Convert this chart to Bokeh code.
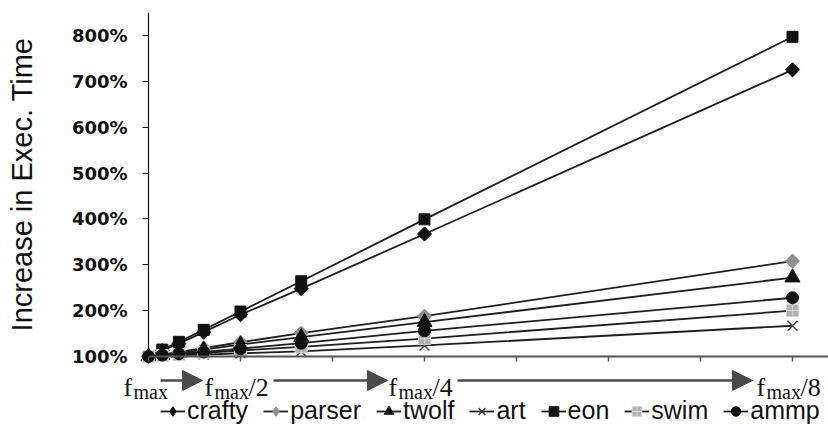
import math
from bokeh.plotting import figure
from bokeh.models import (Range1d, FixedTicker, PrintfTickFormatter, Label, Arrow,
                          NormalHead, Legend, LegendItem)
from bokeh.embed import file_html
from bokeh.resources import INLINE

# ---------------- data ----------------
ratio = [1.0, 1.15, 1.33, 1.6, 2.0, 2.66, 4.0, 8.0]   # execution-time ratio f_max / f
crafty = [100, 113, 128, 153, 191, 248, 367, 725]
parser = [100, 104, 110, 118, 131, 151, 188, 308]
twolf = [100, 103, 108, 115, 126, 142, 175, 272]
art = [100, 101, 103, 104, 107, 111, 124, 167]
eon = [100, 115, 132, 158, 198, 264, 399, 797]
swim = [100, 102, 104, 108, 113, 121, 139, 200]
ammp = [100, 103, 106, 110, 117, 129, 156, 228]

series_names = ["crafty", "parser", "twolf", "art", "eon", "swim", "ammp"]
series_values = [crafty, parser, twolf, art, eon, swim, ammp]

y_ticks = [100, 200, 300, 400, 500, 600, 700, 800]
x_ticks = [1, 2, 3, 4, 5, 6, 7, 8]
x_label_pos = [1, 2, 4, 8]
x_label_suffix = ["", "/2", "/4", "/8"]

# ---------------- styles ----------------
styles = {
    "crafty": dict(marker="square", size=10, angle=math.pi / 4, fill_color="#111111", line_color="#111111"),
    "parser": dict(marker="square", size=10, angle=math.pi / 4, fill_color="#8e8e8e", line_color="#8e8e8e"),
    "twolf": dict(marker="triangle", size=15, angle=0, fill_color="#111111", line_color="#111111"),
    "art": dict(marker="x", size=14, angle=0, fill_color="#444444", line_color="#444444"),
    "eon": dict(marker="square", size=11, angle=0, fill_color="#111111", line_color="#111111"),
    "swim": dict(marker="square_cross", size=12, angle=0, fill_color="#b0b0b0", line_color="#d4d4d4"),
    "ammp": dict(marker="circle", size=12, angle=0, fill_color="#111111", line_color="#111111"),
}

PX_PER_X = 92.0
X0 = 1 - 148 / PX_PER_X
X1 = X0 + 828 / PX_PER_X

p = figure(width=828, height=425, output_backend="svg", toolbar_location=None,
           x_range=Range1d(X0, X1), y_range=Range1d(-50.5, 850),
           min_border_left=0, min_border_right=0, min_border_top=12, min_border_bottom=0)
p.xgrid.visible = False
p.ygrid.visible = False
p.outline_line_color = None
p.background_fill_color = "white"
p.border_fill_color = "white"

# x axis drawn at the 100% level
xa = p.xaxis[0]
xa.fixed_location = 100
xa.bounds = (1, X1)
xa.ticker = FixedTicker(ticks=x_ticks)
xa.major_label_text_font_size = "0px"
xa.major_label_overrides = {t: "" for t in x_ticks}
xa.major_label_standoff = 0
xa.axis_line_color = "#555555"
xa.axis_line_width = 2
xa.major_tick_line_color = "#555555"
xa.major_tick_line_width = 1.5
xa.major_tick_in = 0
xa.major_tick_out = 5
xa.minor_tick_line_color = None

# y axis drawn at x = f_max
ya = p.yaxis[0]
ya.fixed_location = 1
ya.bounds = (100, 850)
ya.ticker = FixedTicker(ticks=y_ticks)
ya.formatter = PrintfTickFormatter(format="%d%%")
ya.major_label_text_font = "DejaVu Sans"
ya.major_label_text_font_style = "bold"
ya.major_label_text_font_size = "18px"
ya.major_label_text_color = "#111111"
ya.major_label_standoff = 15
ya.axis_line_color = "#111111"
ya.axis_line_width = 1.2
ya.major_tick_line_color = "#111111"
ya.major_tick_in = 0
ya.major_tick_out = 6
ya.minor_tick_line_color = None
ya.axis_label = "Increase in Exec. Time"
ya.axis_label_text_font = "Liberation Sans"
ya.axis_label_text_font_style = "normal"
ya.axis_label_text_font_size = "29px"
ya.axis_label_text_color = "#111111"
ya.axis_label_standoff = 31

items = []
for name, vals in zip(series_names, series_values):
    st = styles[name]
    lr = p.line(ratio, vals, line_color="#1e1e1e", line_width=1.8)
    rs = [lr]
    if st["angle"] != 0:
        # diamond drawn underneath the rotated square, used for the legend symbol
        dr = p.scatter(ratio, vals, marker="diamond", size=10,
                       fill_color=st["fill_color"], line_color=st["line_color"])
        rs.append(dr)
    sr = p.scatter(ratio, vals, marker=st["marker"], size=st["size"], angle=st["angle"],
                   fill_color=st["fill_color"], line_color=st["line_color"],
                   line_width=1.5 if st["marker"] == "x" else 1)
    if st["angle"] == 0:
        rs.append(sr)
    items.append(LegendItem(label=name, renderers=rs))

legend = Legend(items=items, orientation="horizontal", location=(160, 0),
                glyph_width=25, glyph_height=24, label_standoff=2, spacing=15,
                padding=0, margin=0, border_line_color=None, background_fill_alpha=0,
                label_text_font="Liberation Sans", label_text_font_size="25px",
                label_text_color="#111111")
p.add_layout(legend)

# x category labels: f_max, f_max/2, ...
BASE_Y = 32.5
SUB_Y = 21.5
serif = "Liberation Serif"
for xp, suf in zip(x_label_pos, x_label_suffix):
    f_off = -25 if suf == "" else -36
    p.add_layout(Label(x=xp, y=BASE_Y, x_offset=f_off, text="f", text_font=serif,
                       text_font_size="26px", text_color="#111111", text_baseline="alphabetic"))
    p.add_layout(Label(x=xp, y=SUB_Y, x_offset=f_off + 10, text="max", text_font=serif,
                       text_font_size="20px", text_color="#111111", text_baseline="alphabetic"))
    if suf:
        p.add_layout(Label(x=xp, y=BASE_Y, x_offset=f_off + 44, text=suf, text_font=serif,
                           text_font_size="26px", text_color="#111111", text_baseline="alphabetic"))

# arrows between labels
ARROW_Y = 47.7
start_gap = [12, 33, 33]
end_gap = [38, 37, 40]
for i in range(3):
    xs = x_label_pos[i] + start_gap[i] / PX_PER_X
    xe = x_label_pos[i + 1] - end_gap[i] / PX_PER_X
    p.add_layout(Arrow(x_start=xs, y_start=ARROW_Y, x_end=xe, y_end=ARROW_Y,
                       line_color="#4a4a4a", line_width=2.5,
                       end=NormalHead(size=20, fill_color="#4a4a4a", line_color="#4a4a4a")))

open("out.html", "w").write(file_html(p, INLINE))
